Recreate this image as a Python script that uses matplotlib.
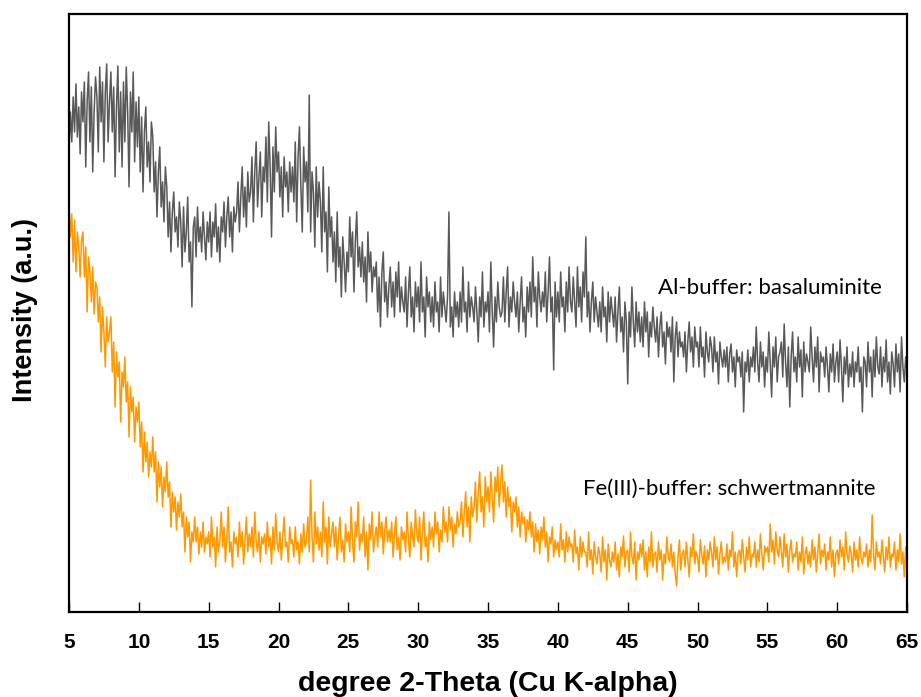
import matplotlib.pyplot as plt
import numpy as np

# scan grid: 5.0 to 65.0 deg 2-theta, 0.1 deg step
two_theta_start = 5.0
two_theta_step = 0.1

# Al-buffer (basaluminite), one row per degree (10 readings each)
al_rows = [
    [462, 500, 470, 515, 480, 528, 475, 505, 458, 520],  # 5
    [490, 530, 445, 510, 540, 470, 525, 440, 500, 535],
    [515, 460, 545, 490, 530, 450, 520, 548, 470, 510],
    [540, 480, 525, 435, 505, 546, 460, 520, 445, 530],
    [470, 545, 500, 425, 520, 480, 540, 450, 510, 465],
    [515, 440, 495, 420, 480, 505, 445, 470, 430, 490],  # 10
    [475, 420, 450, 395, 440, 465, 405, 430, 390, 445],
    [425, 375, 410, 360, 400, 420, 380, 395, 365, 410],
    [390, 345, 405, 360, 380, 415, 350, 370, 305, 385],
    [395, 355, 405, 370, 385, 360, 400, 375, 352, 390],
    [370, 400, 355, 390, 375, 408, 360, 385, 350, 395],  # 15
    [380, 410, 365, 395, 415, 375, 400, 360, 405, 390],
    [400, 430, 380, 415, 445, 395, 425, 385, 440, 410],
    [420, 455, 390, 440, 470, 405, 435, 460, 395, 445],
    [430, 475, 410, 490, 445, 375, 465, 420, 485, 440],
    [460, 415, 445, 395, 455, 425, 440, 400, 450, 420],  # 20
    [445, 410, 470, 390, 455, 485, 425, 380, 465, 430],
    [450, 400, 517, 380, 440, 420, 365, 445, 395, 430],
    [410, 360, 445, 380, 400, 340, 425, 375, 395, 350],
    [380, 330, 400, 345, 365, 315, 375, 350, 320, 360],
    [340, 395, 355, 380, 320, 370, 400, 345, 365, 335],  # 25
    [370, 330, 355, 310, 380, 340, 360, 320, 345, 335],
    [350, 300, 335, 285, 340, 360, 310, 330, 295, 325],
    [345, 305, 330, 295, 340, 315, 350, 300, 325, 310],
    [300, 335, 285, 320, 345, 295, 315, 280, 330, 305],
    [325, 290, 350, 300, 315, 275, 335, 305, 320, 290],  # 30
    [315, 285, 330, 300, 310, 280, 335, 295, 320, 305],
    [290, 315, 400, 285, 305, 275, 320, 295, 310, 285],
    [320, 290, 345, 300, 310, 280, 330, 295, 315, 305],
    [290, 325, 300, 270, 315, 295, 340, 285, 310, 300],
    [320, 280, 350, 300, 265, 315, 290, 330, 305, 295],  # 35
    [300, 335, 290, 320, 345, 285, 315, 300, 330, 310],
    [295, 320, 280, 310, 335, 290, 305, 275, 325, 300],
    [330, 295, 355, 310, 325, 285, 340, 315, 300, 320],
    [305, 340, 290, 320, 355, 300, 315, 242, 330, 295],
    [320, 290, 340, 305, 315, 280, 330, 300, 345, 310],  # 40
    [300, 335, 310, 285, 345, 305, 325, 290, 340, 315],
    [375, 295, 320, 280, 310, 330, 290, 315, 300, 285],
    [310, 280, 325, 295, 305, 270, 320, 290, 315, 300],
    [285, 315, 270, 300, 325, 280, 295, 260, 310, 290],
    [228, 300, 275, 325, 290, 265, 310, 280, 300, 270],  # 45
    [295, 265, 310, 280, 300, 255, 290, 275, 305, 285],
    [270, 295, 255, 285, 300, 265, 280, 248, 290, 275],
    [285, 260, 295, 230, 275, 290, 255, 280, 265, 270],
    [255, 280, 240, 270, 290, 260, 275, 245, 285, 265],
    [270, 245, 285, 255, 265, 235, 280, 260, 250, 275],  # 50
    [265, 240, 275, 250, 260, 228, 270, 255, 245, 262],
    [245, 265, 230, 258, 268, 240, 255, 225, 262, 250],
    [255, 235, 260, 200, 250, 240, 262, 230, 255, 245],
    [265, 240, 285, 250, 230, 270, 245, 260, 225, 255],
    [240, 280, 250, 215, 265, 245, 275, 230, 255, 260],  # 55
    [270, 235, 288, 250, 225, 265, 205, 255, 280, 240],
    [255, 230, 275, 245, 262, 215, 270, 240, 258, 250],
    [240, 285, 255, 230, 265, 245, 275, 220, 260, 250],
    [255, 235, 265, 245, 220, 258, 240, 268, 230, 250],
    [260, 230, 272, 245, 210, 255, 238, 265, 225, 248],  # 60
    [235, 260, 225, 250, 240, 265, 230, 245, 200, 255],
    [250, 225, 270, 240, 255, 215, 262, 235, 275, 245],
    [238, 265, 225, 255, 240, 272, 230, 250, 218, 260],
    [248, 225, 268, 240, 258, 220, 275, 245, 230, 255],
    [240],  # 65
]

# Fe(III)-buffer (schwertmannite)
fe_rows = [
    [407, 375, 398, 350, 392, 340, 380, 365, 335, 372],  # 5
    [380, 335, 365, 300, 355, 340, 310, 345, 298, 330],
    [325, 290, 315, 260, 305, 280, 245, 295, 270, 280],
    [295, 240, 270, 205, 260, 235, 250, 190, 240, 225],
    [255, 210, 230, 175, 225, 200, 215, 170, 205, 190],
    [210, 165, 190, 140, 180, 150, 170, 135, 160, 145],  # 10
    [175, 140, 160, 110, 150, 125, 145, 105, 135, 120],
    [150, 115, 130, 85, 120, 100, 115, 82, 110, 95],
    [118, 85, 100, 60, 95, 75, 90, 50, 80, 70],
    [95, 70, 85, 58, 80, 65, 90, 60, 75, 68],
    [80, 55, 95, 65, 75, 45, 85, 60, 70, 100],  # 15
    [65, 85, 50, 75, 105, 60, 70, 45, 80, 68],
    [75, 55, 90, 65, 80, 48, 72, 95, 60, 78],
    [65, 85, 55, 100, 70, 60, 80, 50, 75, 68],
    [78, 58, 90, 65, 75, 48, 85, 62, 98, 70],
    [60, 80, 52, 75, 95, 65, 70, 50, 85, 68],  # 20
    [72, 55, 85, 62, 70, 48, 78, 60, 88, 65],
    [70, 95, 60, 132, 75, 50, 100, 68, 85, 62],
    [80, 55, 110, 70, 85, 48, 95, 65, 78, 90],
    [65, 85, 52, 75, 95, 60, 72, 50, 88, 70],
    [80, 60, 105, 70, 50, 90, 75, 110, 62, 78],  # 25
    [70, 95, 55, 80, 42, 88, 72, 100, 60, 75],
    [85, 65, 100, 75, 90, 58, 80, 95, 70, 82],
    [70, 90, 55, 78, 95, 62, 75, 52, 85, 72],
    [80, 60, 100, 72, 55, 90, 75, 65, 102, 78],
    [70, 95, 52, 80, 100, 65, 75, 50, 90, 72],  # 30
    [85, 65, 100, 78, 90, 60, 82, 70, 105, 80],
    [90, 70, 105, 82, 95, 65, 88, 78, 100, 85],
    [90, 110, 75, 100, 120, 85, 105, 70, 115, 95],
    [105, 130, 90, 120, 140, 100, 115, 85, 135, 110],
    [125, 100, 140, 115, 90, 135, 120, 145, 105, 130],  # 35
    [147, 110, 130, 95, 125, 105, 115, 80, 110, 100],
    [115, 85, 105, 75, 100, 88, 95, 70, 92, 82],
    [100, 75, 90, 60, 88, 70, 82, 58, 85, 72],
    [95, 65, 80, 50, 75, 68, 85, 55, 72, 62],
    [70, 55, 88, 62, 72, 50, 80, 60, 75, 65],  # 40
    [68, 50, 82, 58, 65, 42, 75, 55, 70, 60],
    [60, 45, 80, 52, 62, 38, 70, 55, 48, 65],
    [58, 40, 75, 50, 62, 32, 68, 52, 45, 60],
    [50, 70, 42, 58, 35, 65, 55, 76, 45, 60],
    [62, 40, 80, 55, 48, 70, 32, 60, 52, 68],  # 45
    [55, 72, 42, 60, 35, 65, 50, 80, 45, 58],
    [60, 40, 70, 52, 62, 32, 58, 48, 75, 55],
    [50, 68, 45, 60, 38, 26, 55, 72, 42, 58],
    [62, 45, 70, 52, 35, 65, 55, 78, 48, 60],
    [55, 40, 72, 58, 48, 66, 35, 62, 52, 70],  # 50
    [60, 45, 75, 52, 65, 38, 58, 70, 48, 55],
    [50, 68, 42, 62, 55, 80, 45, 60, 35, 58],
    [62, 48, 72, 55, 40, 65, 52, 75, 45, 58],
    [55, 70, 45, 62, 50, 78, 58, 42, 66, 60],
    [65, 50, 88, 60, 72, 48, 80, 62, 55, 75],  # 55
    [60, 45, 78, 55, 68, 40, 62, 72, 50, 58],
    [55, 70, 42, 60, 50, 75, 38, 58, 65, 48],
    [60, 45, 72, 52, 65, 40, 58, 78, 48, 62],
    [55, 68, 42, 60, 52, 75, 45, 62, 35, 58],
    [62, 48, 72, 55, 65, 42, 80, 58, 50, 66],  # 60
    [58, 40, 70, 52, 62, 45, 75, 55, 48, 60],
    [55, 68, 45, 62, 50, 97, 58, 42, 70, 55],
    [60, 48, 72, 55, 40, 65, 52, 75, 45, 58],
    [55, 70, 42, 62, 50, 78, 48, 60, 35, 65],
    [58],  # 65
]

x_ticks = [5, 10, 15, 20, 25, 30, 35, 40, 45, 50, 55, 60, 65]

al = np.array([v for row in al_rows for v in row], dtype=float)
fe = np.array([v for row in fe_rows for v in row], dtype=float)
two_theta = np.round(two_theta_start + two_theta_step * np.arange(len(al)), 2)

fig = plt.figure(figsize=(9.21, 6.97), dpi=100)
ax = fig.add_axes([0.0749, 0.122, 0.91, 0.858])

ax.plot(two_theta, al, color="#595959", linewidth=1.1)
ax.plot(two_theta, fe, color="#FF9900", linewidth=1.1)

ax.set_xlim(5, 65)
ax.set_ylim(0, 598)
ax.set_xticks(x_ticks)
ax.set_yticks([])

bold_sans = ["Liberation Sans", "DejaVu Sans"]
ax.set_xticklabels([str(t) for t in x_ticks], family=bold_sans,
                   fontweight="bold", fontsize=15)
ax.tick_params(axis="x", direction="in", length=7, width=1, pad=15)

for s in ax.spines.values():
    s.set_linewidth(1.6)

ax.set_xlabel("degree 2-Theta (Cu K-alpha)", fontsize=20.5, fontweight="bold",
              family=bold_sans)
ax.xaxis.set_label_coords(0.5, -0.099)
ax.set_ylabel("Intensity (a.u.)", fontsize=19.5, fontweight="bold",
              family=bold_sans)
ax.yaxis.set_label_coords(-0.037, 0.505)

ax.text(47.15, 324, "Al-buffer: basaluminite", fontsize=16,
        family=["Lato", "DejaVu Sans"], va="center", ha="left")
ax.text(41.8, 123, "Fe(III)-buffer: schwertmannite", fontsize=16,
        family=["Lato", "DejaVu Sans"], va="center", ha="left")

fig.savefig("out.png", dpi=100)
